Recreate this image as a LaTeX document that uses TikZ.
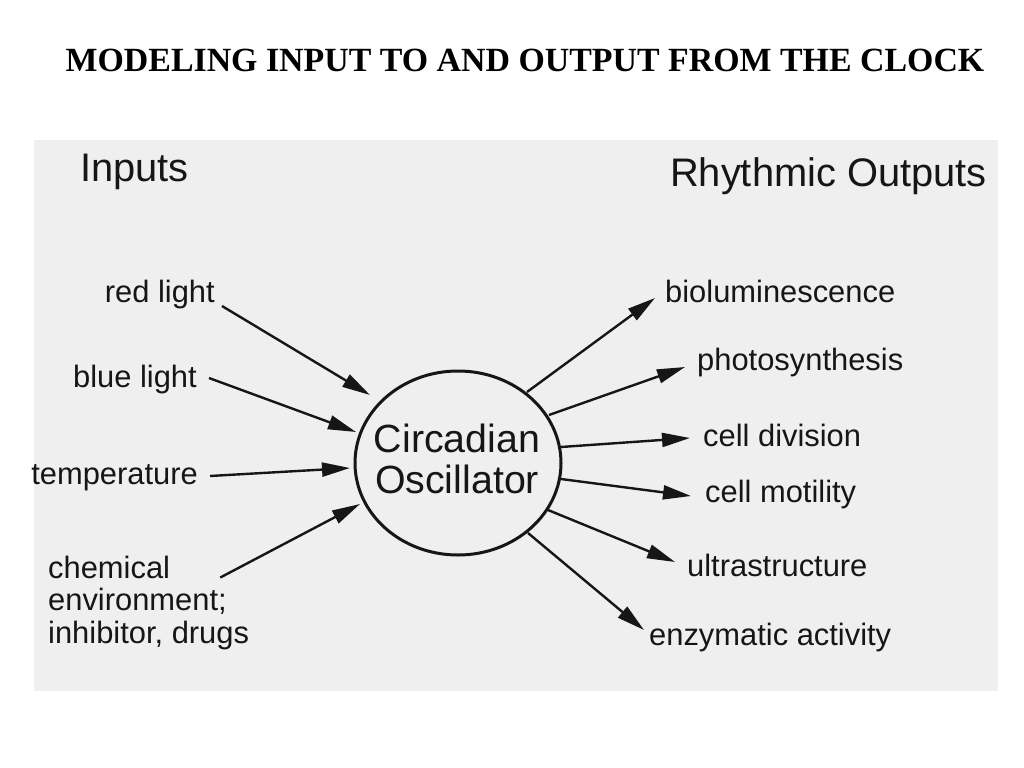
\documentclass[tikz,border=0pt]{standalone}
\usepackage{fontspec}
\setmainfont{Liberation Serif}
\newfontfamily\labelfont{Liberation Sans}
\usetikzlibrary{shapes.geometric,arrows.meta}
\definecolor{panelgrey}{RGB}{239,239,239}
\definecolor{inkblack}{RGB}{22,22,22}

\begin{document}
\begin{tikzpicture}[
    x=1bp, y=-1bp,
    lbl/.style={font=\labelfont\fontsize{31}{33}\selectfont, text=inkblack, inner sep=0pt, align=left},
    hdr/.style={lbl, font=\labelfont\fontsize{40}{42}\selectfont},
    oscbox/.style={ellipse, draw=inkblack, line width=3bp, minimum width=206bp, minimum height=184bp,
                inner sep=0pt},
    osctext/.style={lbl, align=center, font=\labelfont\fontsize{39.5}{40.5}\selectfont},
    arr/.style={-{Triangle[length=28bp,width=14bp]}, line width=2.4bp, inkblack}
]
\fill[white] (0,0) rectangle (1024,768);
\useasboundingbox (0,0) rectangle (1024,768);
\fill[panelgrey] (34,140) rectangle (998,691);

\node[font=\bfseries\fontsize{34}{36}\selectfont, inner sep=0pt] (title) at (525,60) {MODELING INPUT TO AND OUTPUT FROM THE CLOCK};

% headings
\node[hdr, anchor=west] (inputs) at (80,172) {Inputs};
\node[hdr, anchor=east] (outputs) at (987,176) {Rhythmic Outputs};

% the clock
\node[oscbox] (osc) at (458,463) {};
\node[osctext] (osclabel) at (457,459) {Circadian\\Oscillator};

% inputs
\node[lbl, anchor=east] (red) at (215,295) {red light};
\node[lbl, anchor=east] (blue) at (197,380) {blue light};
\node[lbl, anchor=east] (temp) at (198,478) {temperature};
\node[lbl, anchor=west] (chem) at (48,603) {chemical\\environment;\\inhibitor, drugs};

% outputs
\node[lbl, anchor=west] (biolum) at (665,291) {bioluminescence};
\node[lbl, anchor=west] (photo) at (697,363) {photosynthesis};
\node[lbl, anchor=west] (division) at (703,435) {cell division};
\node[lbl, anchor=west] (motility) at (705,495) {cell motility};
\node[lbl, anchor=west] (ultra) at (687,565) {ultrastructure};
\node[lbl, anchor=west] (enzyme) at (649,638) {enzymatic activity};

\draw[arr] ([shift={(7,11)}]red.east) -- ([shift={(-88,-68)}]osc.center);
\draw[arr] ([shift={(12,-2)}]blue.east) -- ([shift={(-102,-31)}]osc.center);
\draw[arr] ([shift={(12,-2)}]temp.east) -- ([shift={(-108,5)}]osc.center);
\draw[arr] ([shift={(-29,22)}]chem.north east) -- ([shift={(-98,41)}]osc.center);

\draw[arr] ([shift={(69,-71)}]osc.center) -- ([shift={(-10,7)}]biolum.west);
\draw[arr] ([shift={(91,-48)}]osc.center) -- ([shift={(-12,4)}]photo.west);
\draw[arr] ([shift={(103,-16)}]osc.center) -- ([shift={(-13,3)}]division.west);
\draw[arr] ([shift={(103,16)}]osc.center) -- ([shift={(-14,1)}]motility.west);
\draw[arr] ([shift={(90,47)}]osc.center) -- ([shift={(-12,-3)}]ultra.west);
\draw[arr] ([shift={(70,70)}]osc.center) -- ([shift={(-5,-8)}]enzyme.west);
\end{tikzpicture}
\end{document}
